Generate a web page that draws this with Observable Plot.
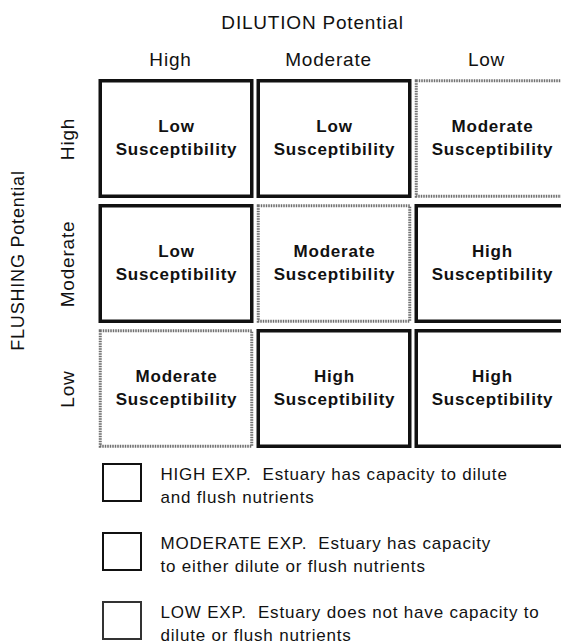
<!DOCTYPE html>
<html>
<head>
<meta charset="utf-8">
<script src="https://cdn.jsdelivr.net/npm/d3@7"></script>
<script src="https://cdn.jsdelivr.net/npm/@observablehq/plot@0.6"></script>
<style>
  html, body { margin: 0; padding: 0; background: #fff; overflow: hidden; }
  body { width: 561px; height: 644px; }
  svg { display: block; }
  svg text { letter-spacing: 0.8px; }
</style>
</head>
<body>
<script>
// DILUTION potential (columns) and FLUSHING potential (rows)
const dilution = ["High", "Moderate", "Low"];
const flushing = ["High", "Moderate", "Low"];
// Susceptibility level for each flushing row x dilution column
const susceptibility = [
  ["Low", "Low", "Moderate"],
  ["Low", "Moderate", "High"],
  ["Moderate", "High", "High"]
];
const legendKeys = ["HIGH", "MODERATE", "LOW"];
const legendText = [
  "HIGH EXP.\u00a0 Estuary has capacity to dilute\nand flush nutrients",
  "MODERATE EXP.\u00a0 Estuary has capacity\nto either dilute or flush nutrients",
  "LOW EXP.\u00a0 Estuary does not have capacity to\ndilute or flush nutrients"
];

const cells = flushing.flatMap((f, i) => dilution.map((d, j) => ({flush: f, dilute: d, level: susceptibility[i][j]})));
const legend = legendKeys.map((k, i) => ({key: k, label: legendText[i]}));

const font = "'Liberation Sans', Arial, Helvetica, sans-serif";

const main = Plot.plot({
  width: 561,
  height: 450,
  margin: 0,
  style: {fontFamily: font, color: "#111", background: "white", overflow: "visible"},
  x: {type: "band", domain: dilution, range: [96.25, 571.75], padding: 0, axis: null},
  y: {type: "band", domain: flushing, range: [74.75, 451.25], padding: 0, axis: null},
  marks: [
    Plot.cell(cells.filter(d => d.level !== "Moderate"), {
      x: "dilute", y: "flush", fill: "white", stroke: "#111", strokeWidth: 3.5,
      insetLeft: 3.25, insetRight: 3.25, insetTop: 4.75, insetBottom: 4.75
    }),
    Plot.cell(cells.filter(d => d.level === "Moderate"), {
      x: "dilute", y: "flush", fill: "white", stroke: "#6e6e6e", strokeWidth: 3,
      strokeDasharray: "1.5 1",
      insetLeft: 3.25, insetRight: 3.25, insetTop: 4.75, insetBottom: 4.75
    }),
    Plot.text(cells, {
      x: "dilute", y: "flush", text: d => d.level + "\nSusceptibility",
      fontWeight: "bold", fontSize: 17, lineHeight: 1.35, dy: -3, fill: "#111"
    }),
    Plot.text(dilution, {
      x: d => d, frameAnchor: "top", dy: 59, dx: -6, fontSize: 19, lineAnchor: "middle", fill: "#111"
    }),
    Plot.text(["DILUTION Potential"], {
      frameAnchor: "top", dx: 31.5, dy: 22, fontSize: 19, lineAnchor: "middle", fill: "#111"
    }),
    Plot.text(flushing, {
      y: d => d, frameAnchor: "left", dx: 67, rotate: -90, fontSize: 19,
      textAnchor: "middle", lineAnchor: "middle", fill: "#111"
    }),
    Plot.text(["FLUSHING Potential"], {
      frameAnchor: "left", dx: 18, dy: 35, rotate: -90, fontSize: 18,
      textAnchor: "middle", lineAnchor: "middle", fill: "#111"
    })
  ]
});

const leg = Plot.plot({
  width: 561,
  height: 194,
  margin: 0,
  style: {fontFamily: font, color: "#111", background: "white", overflow: "visible"},
  x: {type: "band", domain: ["swatch"], range: [103, 141], padding: 0, axis: null},
  y: {type: "band", domain: legendKeys, range: [-2.5, 204.5], padding: 0, axis: null},
  marks: [
    Plot.cell(legend, {
      x: () => "swatch", y: "key", fill: "white",
      stroke: d => d.key === "LOW" ? "#333" : "#111", strokeWidth: 2,
      insetTop: 16, insetBottom: 16, insetLeft: 0, insetRight: 0
    }),
    Plot.text(legend, {
      x: () => "swatch", y: "key", text: "label", textAnchor: "start",
      dx: 38, dy: 1.5, fontSize: 17, lineHeight: 1.35, fill: "#111"
    })
  ]
});

document.body.appendChild(main);
document.body.appendChild(leg);
</script>
</body>
</html>
